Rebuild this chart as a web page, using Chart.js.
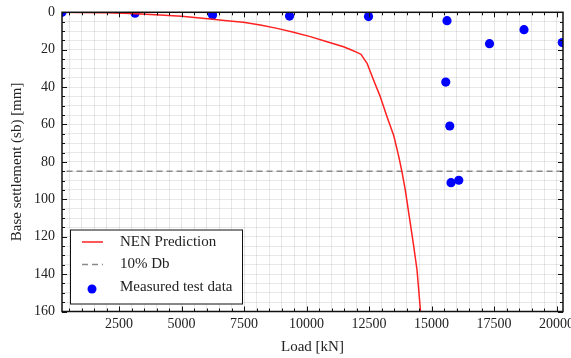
<!DOCTYPE html>
<html>
<head>
<meta charset="utf-8">
<script src="https://cdn.jsdelivr.net/npm/chart.js@4.4.1/dist/chart.umd.min.js"></script>
<style>
  html, body { margin: 0; padding: 0; background: #fff; }
  #wrap { width: 571px; height: 358px; }
</style>
</head>
<body>
<div id="wrap"><canvas id="c" width="571" height="358"></canvas></div>
<script>
// NEN prediction curve: load [kN] and base settlement [mm]
const nenLoad = [0, 1000, 2000, 3000, 4140, 5000, 6150, 6810, 7470, 8150, 8820, 9480, 10150, 10820, 11480, 11750, 12000, 12180, 12420, 12680, 12950, 13220, 13490, 13690, 13820, 13950, 14150, 14290, 14420, 14555, 14600];
const nenSettle = [0, 0.1, 0.3, 0.6, 1.4, 2.1, 3.6, 4.5, 5.3, 6.8, 8.6, 10.7, 13.0, 15.7, 18.4, 19.9, 21.3, 22.5, 27.3, 36.2, 45.1, 55.8, 66.0, 77.2, 85.5, 95.0, 112.8, 125.3, 137.8, 159.1, 166];

// Measured load test data
const testLoad = [217, 3140, 6240, 9320, 12480, 15620, 15570, 15730, 15780, 16090, 17320, 18700, 20230];
const testSettle = [0, 0.5, 1.4, 2.0, 2.3, 4.5, 37.3, 60.8, 91.1, 89.8, 16.8, 9.3, 16.2];

// 10% of base diameter criterion
const limitSettle = 85;

// Axis ranges and tick steps (labelled ticks / minor ticks)
const xRange = [217, 20260];
const yRange = [0, 160];
const xMajor = 2500, xMinor = 500;
const yMajor = 20, yMinor = 5;

const serif = "'Liberation Serif', 'DejaVu Serif', serif";
const textColor = '#222';

const toPoints = (xs, ys) => xs.map((x, i) => ({ x, y: ys[i] }));

// every multiple of step that falls within [lo, hi]
const stepsWithin = (lo, hi, step) => {
  const out = [];
  for (let k = Math.ceil(lo / step); k * step <= hi; k++) out.push(k * step);
  return out;
};

// fixed axis box sizes, no extra room reserved for overhanging labels
const fixBox = (w, h) => s => {
  if (w !== null) s.width = w;
  if (h !== null) s.height = h;
  s.paddingLeft = 0; s.paddingRight = 0; s.paddingTop = 0; s.paddingBottom = 0;
};

// inward ticks on all four sides, plus the frame
const framePlugin = {
  id: 'frame',
  afterDatasetsDraw(chart) {
    const { ctx, chartArea: a, scales: { x, y } } = chart;
    ctx.save();
    ctx.strokeStyle = '#111';
    ctx.lineWidth = 1;
    x.ticks.forEach(t => {
      const px = Math.round(x.getPixelForValue(t.value)) + 0.5;
      const len = t.value % xMajor === 0 ? 5 : 3;
      ctx.beginPath();
      ctx.moveTo(px, a.bottom); ctx.lineTo(px, a.bottom - len);
      ctx.moveTo(px, a.top); ctx.lineTo(px, a.top + len);
      ctx.stroke();
    });
    y.ticks.forEach(t => {
      const py = Math.round(y.getPixelForValue(t.value)) + 0.5;
      const len = t.value % yMajor === 0 ? 5 : 3;
      ctx.beginPath();
      ctx.moveTo(a.left, py); ctx.lineTo(a.left + len, py);
      ctx.moveTo(a.right, py); ctx.lineTo(a.right - len, py);
      ctx.stroke();
    });
    ctx.lineWidth = 1.5;
    ctx.strokeRect(a.left, a.top, a.right - a.left, a.bottom - a.top);
    ctx.restore();
  }
};

// legend box in the lower-left corner of the plot
const legendPlugin = {
  id: 'boxLegend',
  afterDraw(chart) {
    const { ctx, chartArea: a } = chart;
    const ds = chart.data.datasets;
    const bx = a.left + 8, by = a.bottom - 82, bw = 172, bh = 74;
    ctx.save();
    ctx.fillStyle = '#fff';
    ctx.fillRect(bx, by, bw, bh);
    ctx.strokeStyle = '#111';
    ctx.lineWidth = 1;
    ctx.strokeRect(bx + 0.5, by + 0.5, bw, bh);
    ctx.font = '15px ' + serif;
    ctx.fillStyle = textColor;
    ctx.textBaseline = 'middle';
    const rows = [by + 12.5, by + 35, by + 57.5];
    ds.forEach((d, i) => {
      const ry = rows[i];
      if (d.showLine) {
        ctx.strokeStyle = d.borderColor;
        ctx.lineWidth = d.borderWidth;
        ctx.setLineDash(d.borderDash || []);
        ctx.beginPath();
        ctx.moveTo(bx + 12, ry); ctx.lineTo(bx + 33, ry);
        ctx.stroke();
        ctx.setLineDash([]);
      } else {
        ctx.fillStyle = d.backgroundColor;
        ctx.beginPath();
        ctx.arc(bx + 22, ry + 2, 4.5, 0, Math.PI * 2);
        ctx.fill();
      }
      ctx.fillStyle = textColor;
      ctx.fillText(d.label, bx + 50, ry);
    });
    ctx.restore();
  }
};

new Chart(document.getElementById('c'), {
  type: 'scatter',
  data: {
    datasets: [
      {
        label: 'NEN Prediction',
        data: toPoints(nenLoad, nenSettle),
        showLine: true,
        borderColor: '#ff2020',
        borderWidth: 1.5,
        pointRadius: 0,
        tension: 0,
        borderJoinStyle: 'round',
        clip: 0
      },
      {
        label: '10% Db',
        data: [{ x: 0, y: limitSettle }, { x: 21000, y: limitSettle }],
        showLine: true,
        borderColor: '#8a8a8a',
        borderWidth: 1.3,
        borderDash: [6, 4],
        pointRadius: 0,
        clip: 0
      },
      {
        label: 'Measured test data',
        data: toPoints(testLoad, testSettle),
        showLine: false,
        backgroundColor: '#0000ff',
        borderColor: '#0000ff',
        borderWidth: 0,
        pointRadius: 4.6,
        clip: 0
      }
    ]
  },
  options: {
    animation: false,
    responsive: false,
    devicePixelRatio: 1,
    layout: { padding: { top: 12.3, right: 8, left: 0, bottom: 0 } },
    plugins: { legend: { display: false }, tooltip: { enabled: false } },
    scales: {
      x: {
        type: 'linear',
        min: xRange[0],
        max: xRange[1],
        afterBuildTicks: s => { s.ticks = stepsWithin(xRange[0], xRange[1], xMinor).map(value => ({ value })); },
        afterFit: fixBox(null, 46.5),
        grid: { color: 'rgba(0,0,0,0.09)', lineWidth: 1, drawTicks: false },
        border: { display: false },
        ticks: {
          autoSkip: false,
          maxRotation: 0,
          minRotation: 0,
          padding: 4,
          color: textColor,
          font: { family: serif, size: 14 },
          callback: v => (v % xMajor === 0 ? String(v) : '')
        },
        title: {
          display: true,
          text: 'Load [kN]',
          color: textColor,
          font: { family: serif, size: 15 },
          padding: { top: 0, bottom: 1.5 }
        }
      },
      y: {
        type: 'linear',
        reverse: true,
        min: yRange[0],
        max: yRange[1],
        afterBuildTicks: s => { s.ticks = stepsWithin(yRange[0], yRange[1], yMinor).map(value => ({ value })); },
        afterFit: fixBox(62, null),
        grid: { color: 'rgba(0,0,0,0.09)', lineWidth: 1, drawTicks: false },
        border: { display: false },
        ticks: {
          autoSkip: false,
          padding: 7,
          color: textColor,
          font: { family: serif, size: 14 },
          callback: v => (v % yMajor === 0 ? String(v) : '')
        },
        title: {
          display: true,
          text: 'Base settlement (sb) [mm]',
          color: textColor,
          font: { family: serif, size: 15 },
          padding: { top: 8.5, bottom: 0 }
        }
      }
    }
  },
  plugins: [framePlugin, legendPlugin]
});
</script>
</body>
</html>
